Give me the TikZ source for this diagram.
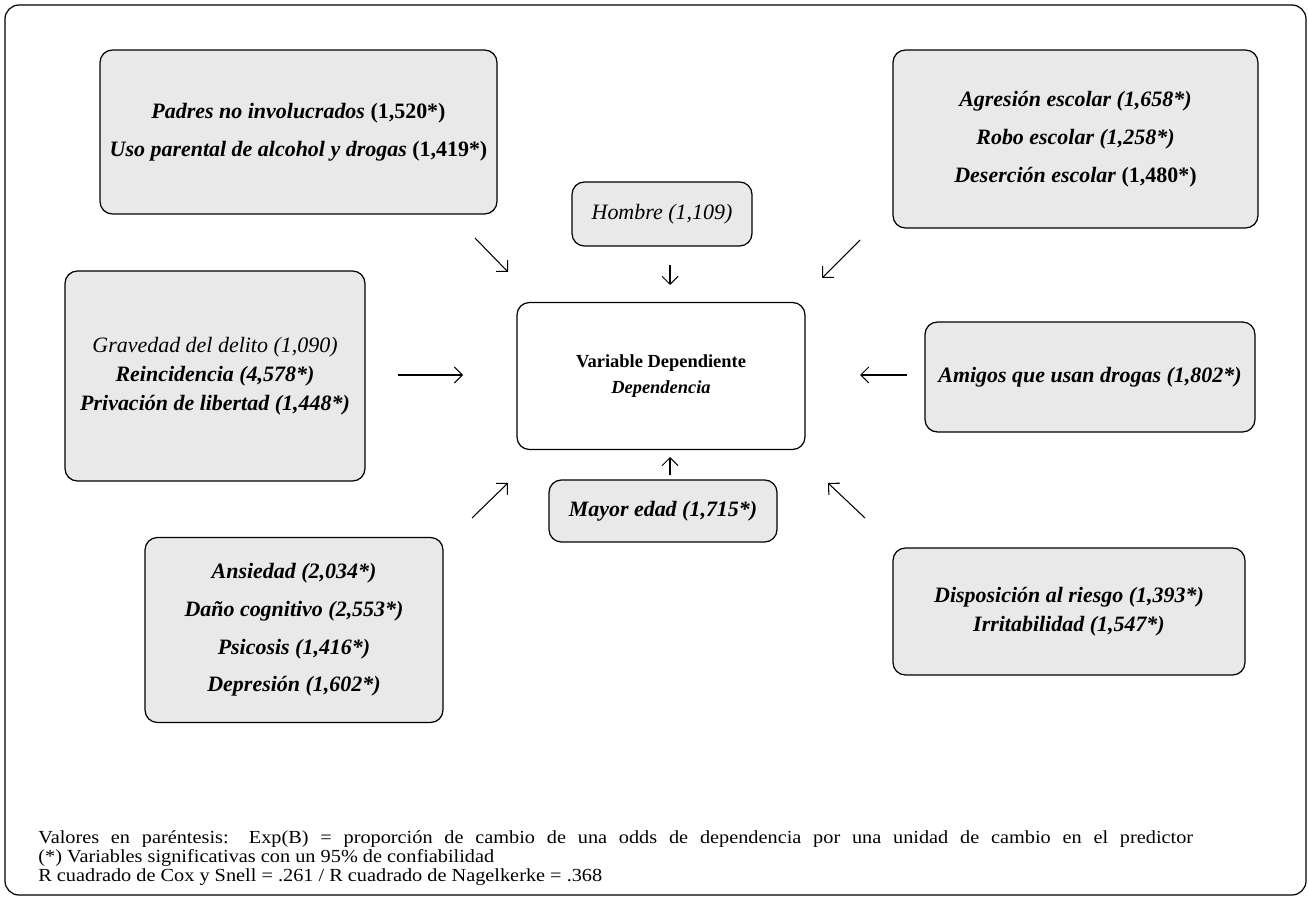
\documentclass[tikz,border=0pt]{standalone}
\usepackage{fontspec}
\setmainfont{Liberation Serif}
\newfontfamily\notefont[FakeStretch=1.1]{Liberation Serif}
\usepackage{tikz}
\usetikzlibrary{arrows.meta,positioning,calc}
\definecolor{boxgray}{RGB}{233,233,233}

\begin{document}
\begin{tikzpicture}[
    x=0.02cm, y=-0.02cm,
    factor/.style={rectangle, draw=black, fill=boxgray, rounded corners=7pt, line width=0.7pt, align=center, inner sep=0pt, font=\fontsize{12.5}{21.5}\selectfont},
    tight/.style={font=\fontsize{12.5}{16.5}\selectfont},
    target/.style={rectangle, draw=black, fill=white, rounded corners=7pt, line width=0.7pt, align=center, inner sep=0pt, font=\fontsize{10.5}{15}\selectfont},
    note/.style={align=left, inner sep=0pt, font=\notefont\fontsize{10.5}{10.8}\selectfont},
    arrow/.style={-{Straight Barb[length=1.6mm,width=3.2mm]}, line width=0.6pt}
]
    % frame
    \useasboundingbox (0,0) rectangle (1309,898);
    \draw[line width=0.7pt, rounded corners=8pt] (5,5) rectangle (1306,895);

    % central variable
    \node[target, minimum width=5.76cm, minimum height=2.94cm] (dep) at (661,376)
        {\textbf{Variable Dependiente}\\ \textbf{\itshape Dependencia}};

    % predictors
    \node[factor, minimum width=7.94cm, minimum height=3.28cm] (padres) at (298.5,132)
        {\textbf{\itshape Padres no involucrados} \textbf{(1,520*)}\\
         \textbf{\itshape Uso parental de alcohol y drogas} \textbf{(1,419*)}};
    \node[factor, minimum width=7.3cm, minimum height=3.56cm] (escolar) at (1075.5,139)
        {\textbf{\itshape Agresión escolar (1,658*)}\\
         \textbf{\itshape Robo escolar (1,258*)}\\
         \textbf{\itshape Deserción escolar} \textbf{(1,480*)}};
    \node[factor, minimum width=3.6cm, minimum height=1.28cm] (hombre) at (662,214)
        {\itshape Hombre (1,109)};
    \node[factor, tight, minimum width=6cm, minimum height=4.2cm] (delito) at (215,376)
        {\itshape Gravedad del delito (1,090)\\
         \textbf{\itshape Reincidencia (4,578*)}\\
         \textbf{\itshape Privación de libertad (1,448*)}};
    \node[factor, minimum width=6.6cm, minimum height=2.2cm] (amigos) at (1090,377)
        {\textbf{\itshape Amigos que usan drogas (1,802*)}};
    \node[factor, minimum width=4.56cm, minimum height=1.24cm] (edad) at (663,511)
        {\textbf{\itshape Mayor edad (1,715*)}};
    \node[factor, minimum width=5.96cm, minimum height=3.7cm] (salud) at (294,630)
        {\textbf{\itshape Ansiedad (2,034*)}\\
         \textbf{\itshape Daño cognitivo (2,553*)}\\
         \textbf{\itshape Psicosis (1,416*)}\\
         \textbf{\itshape Depresión (1,602*)}};
    \node[factor, tight, minimum width=7.04cm, minimum height=2.54cm] (riesgo) at (1069,611.5)
        {\textbf{\itshape Disposición al riesgo (1,393*)}\\
         \textbf{\itshape Irritabilidad (1,547*)}};

    % arrow ends
    \coordinate (padres-a) at (475,238);  \coordinate (padres-b) at (508,272);
    \coordinate (hombre-a) at (670,265);  \coordinate (hombre-b) at (670,285);
    \coordinate (escolar-a) at (860,240); \coordinate (escolar-b) at (822,278);
    \coordinate (delito-a) at (398,375);  \coordinate (delito-b) at (463,375);
    \coordinate (amigos-a) at (907,375);  \coordinate (amigos-b) at (860,375);
    \coordinate (salud-a) at (472,518);   \coordinate (salud-b) at (508,483);
    \coordinate (edad-a) at (670,475);    \coordinate (edad-b) at (670,457);
    \coordinate (riesgo-a) at (865,518);  \coordinate (riesgo-b) at (828,483);

    \draw[arrow] (padres-a) -- (padres-b);
    \draw[arrow] (hombre-a) -- (hombre-b);
    \draw[arrow] (escolar-a) -- (escolar-b);
    \draw[arrow] (delito-a) -- (delito-b);
    \draw[arrow] (amigos-a) -- (amigos-b);
    \draw[arrow] (salud-a) -- (salud-b);
    \draw[arrow] (edad-a) -- (edad-b);
    \draw[arrow] (riesgo-a) -- (riesgo-b);

    % notes
    \node[note, anchor=north west] (notas) at (38,830)
        {\makebox[23.1cm][s]{Valores en paréntesis: Exp(B) = proporción de cambio de una odds de dependencia por una unidad de cambio en el predictor}\\
         (*) Variables significativas con un 95\% de confiabilidad\\
         R cuadrado de Cox y Snell = .261 / R cuadrado de Nagelkerke = .368};
\end{tikzpicture}
\end{document}
